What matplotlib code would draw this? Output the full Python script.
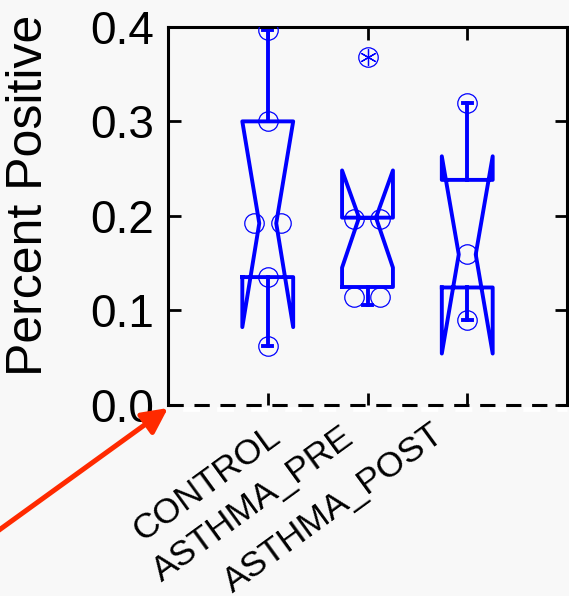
import matplotlib
matplotlib.use('Agg')
import matplotlib.pyplot as plt
from matplotlib.transforms import ScaledTranslation
import numpy as np

plt.rcParams['font.family'] = ['Liberation Sans', 'DejaVu Sans']

categories = ['CONTROL', 'ASTHMA_PRE', 'ASTHMA_POST']
medians = [0.192, 0.198, 0.159]
q1s = [0.135, 0.1245, 0.124]
q3s = [0.300, 0.198, 0.238]
whislo = [0.062, 0.1055, 0.0895]
whishi = [0.397, 0.198, 0.319]
ci_lo = [0.082, 0.145, 0.054]
ci_hi = [0.300, 0.248, 0.263]
fliers = [[], [0.368], []]

# individual observations and their horizontal jitter
ctrl_pts = [0.397, 0.300, 0.192, 0.192, 0.135, 0.062]
ctrl_jit = [0.0, 0.0, -0.135, 0.135, 0.0, 0.0]
pre_pts = [0.197, 0.197, 0.114, 0.114]
pre_jit = [-0.14, 0.13, -0.14, 0.13]
post_pts = [0.319, 0.159, 0.0895]
post_jit = [0.0, 0.0, 0.0]

yticks = [0.0, 0.1, 0.2, 0.3, 0.4]

BG = '#f8f8f8'
BLUE = '#0000ff'

fig = plt.figure(figsize=(5.69, 5.96), dpi=100, facecolor=BG)
ax = fig.add_axes([168/569, 191.5/596, 399/569, 377.5/596], facecolor=BG)

positions = [1, 2, 3]
box_w = 0.51
stats = []
for i, c in enumerate(categories):
    stats.append(dict(label=c, med=medians[i], q1=q1s[i], q3=q3s[i],
                      whislo=whislo[i], whishi=whishi[i],
                      cilo=ci_lo[i], cihi=ci_hi[i], fliers=fliers[i]))

lw = 2.8
res = ax.bxp(stats, positions=positions, widths=box_w, shownotches=True,
             capwidths=0.09,
             boxprops=dict(color=BLUE, lw=lw),
             whiskerprops=dict(color=BLUE, lw=lw),
             capprops=dict(color=BLUE, lw=lw),
             medianprops=dict(lw=0),
             flierprops=dict(marker='o', mfc='none', mec=BLUE, ms=14, mew=0.9))

# narrower notch waist
for p, box in zip(positions, res['boxes']):
    xd = np.array(box.get_xdata(), dtype=float)
    inner = np.abs(xd - p) < box_w / 2 - 1e-6
    xd[inner] = p + np.sign(xd[inner] - p) * box_w / 6
    box.set_xdata(xd)

# asterisk inside the outlier circle
for p, f in zip(positions, fliers):
    if f:
        ax.plot([p]*len(f), f, ls='none', marker=(6, 2, 0), ms=12,
                mec=BLUE, mew=0.9)

for p, pts, jit in zip(positions, [ctrl_pts, pre_pts, post_pts],
                       [ctrl_jit, pre_jit, post_jit]):
    ax.plot(np.array(jit) + p, pts, ls='none', marker='o', mfc='none',
            mec=BLUE, ms=14, mew=0.9, zorder=4)

ax.set_xlim(0, 4)
ax.set_ylim(0, 0.4)
ax.set_yticks(yticks)
ax.set_yticklabels([f'{v:.1f}' for v in yticks])
ax.set_xticks(positions)
ax.set_xticklabels(categories, rotation=36, ha='right', va='top',
                   rotation_mode='anchor', fontsize=25.5)
ax.tick_params(axis='y', labelsize=33, direction='in', length=9, width=2,
               right=True, pad=10)
ax.tick_params(axis='x', direction='in', length=9, width=2, top=True, pad=6)

# per-label nudges (pixels)
nudges = [(-1, -7), (-27, -8), (-37, -5)]
for lab, (dx, dy) in zip(ax.get_xticklabels(), nudges):
    lab.set_transform(lab.get_transform() +
                      ScaledTranslation(dx/100, dy/100, fig.dpi_scale_trans))

ax.set_ylabel('Percent Positive', fontsize=36)
ax.yaxis.set_label_coords(-0.29, 0.555)

for s in ['left', 'top', 'right']:
    ax.spines[s].set_linewidth(2.2)
ax.spines['bottom'].set_visible(False)

# dashed baseline at zero
ax.plot([0, 4], [0, 0], color='black', lw=2.2, ls=(0, (5, 3.5)),
        clip_on=False, zorder=5, dash_capstyle='butt')
off = ScaledTranslation(0, -4/100, fig.dpi_scale_trans)
ax.plot([0, 4], [0, 0], color='white', lw=3.5, ls=(4, (3.5, 3.5)),
        clip_on=False, zorder=4, transform=ax.transData + off,
        dash_capstyle='butt')

ax.annotate('', xy=(168, 596-408), xycoords='figure pixels',
            xytext=(-5, 596-533), textcoords='figure pixels',
            arrowprops=dict(arrowstyle='-|>,head_length=0.7,head_width=0.35',
                            color='#ff2a00', lw=3.6, mutation_scale=22,
                            shrinkA=0, shrinkB=0),
            annotation_clip=False)

fig.savefig('out.png', dpi=100, facecolor=BG)
